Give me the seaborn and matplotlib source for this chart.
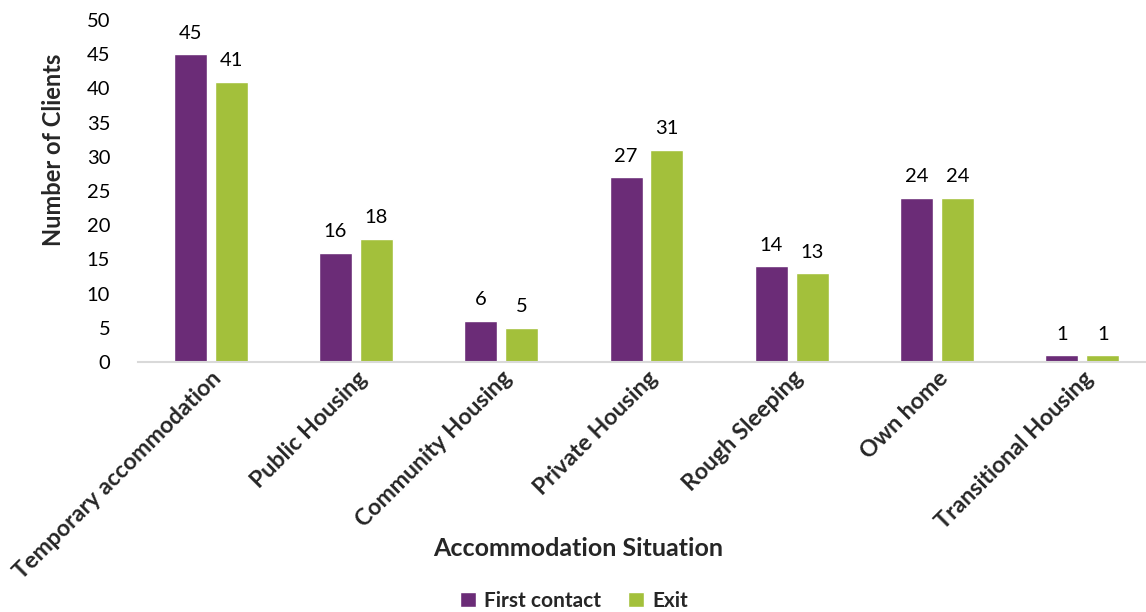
import matplotlib
matplotlib.use("Agg")
import matplotlib.pyplot as plt
import seaborn as sns
import pandas as pd

categories = ["Temporary accommodation", "Public Housing", "Community Housing",
              "Private Housing", "Rough Sleeping", "Own home", "Transitional Housing"]
first_contact = [45, 16, 6, 27, 14, 24, 1]
exit_vals = [41, 18, 5, 31, 13, 24, 1]
series = ["First contact", "Exit"]
colors = ["#6B2C77", "#A3C03B"]
yticks = [0, 5, 10, 15, 20, 25, 30, 35, 40, 45, 50]

df = pd.DataFrame({
    "cat": categories * 2,
    "val": first_contact + exit_vals,
    "series": [series[0]] * len(categories) + [series[1]] * len(categories),
})

sns.set_theme(style="white")
plt.rcParams["font.family"] = ["Lato", "DejaVu Sans"]

fig = plt.figure(figsize=(11.46, 6.12), dpi=100)
ax = fig.add_axes([138 / 1146, 250 / 612, 1017 / 1146, 342 / 612])

sns.barplot(data=df, x="cat", y="val", hue="series", palette=colors,
            width=0.564, gap=0.195, ax=ax, saturation=1, legend=True)

for c in ax.containers:
    ax.bar_label(c, padding=9, fontsize=14.5, color="#000000")

ax.set_ylim(0, 50)
ax.set_yticks(yticks)
ax.tick_params(axis="y", labelsize=14.5, length=0, pad=20, colors="#000000")
ax.tick_params(axis="x", length=0, pad=4)
ax.set_xticks(range(len(categories)))
ax.set_xticklabels(categories, rotation=45, ha="right", rotation_mode="anchor",
                   fontsize=16.7, fontweight="bold")
ax.set_xlim(-0.5, len(categories) - 0.5)

for s in ["top", "right", "left"]:
    ax.spines[s].set_visible(False)
ax.spines["bottom"].set_color("#d9d9d9")
ax.spines["bottom"].set_linewidth(1.5)

ax.set_ylabel("Number of Clients", fontsize=17, fontweight="bold")
ax.set_xlabel("Accommodation Situation", fontsize=18, fontweight="bold")
ax.xaxis.set_label_coords((578 - 138) / 1017, -(537 - 362) / 342)
ax.yaxis.set_label_coords((65 - 138) / 1017, (362 - 150) / 342)

leg = ax.legend(loc="center", bbox_to_anchor=(574 / 1146, 1 - 601 / 612),
                bbox_transform=fig.transFigure, ncol=2, frameon=False,
                prop={"size": 15, "weight": "bold"}, handlelength=0.75,
                handleheight=0.75, columnspacing=1.3, handletextpad=0.4)

fig.savefig("out.png", dpi=100)
